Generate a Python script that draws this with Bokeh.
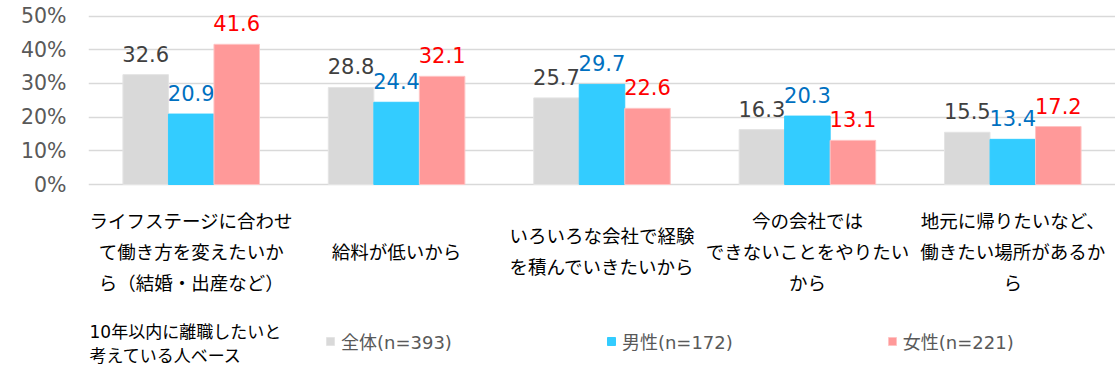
from bokeh.plotting import figure
from bokeh.models import ColumnDataSource, FactorRange, FixedTicker, Legend, LegendItem, Label, Range1d
from bokeh.transform import dodge
from bokeh.core.properties import value
from bokeh.embed import file_html
from bokeh.resources import INLINE

# ---------------- data ----------------
category_lines = [
    ["ライフステージに合わせ", "て働き方を変えたいか", "ら（結婚・出産など）"],
    ["給料が低いから"],
    ["いろいろな会社で経験", "を積んでいきたいから"],
    ["今の会社では", "できないことをやりたい", "から"],
    ["地元に帰りたいなど、", "働きたい場所があるか", "ら"],
]
categories = ["".join(l) for l in category_lines]
series_names = ["全体(n=393)", "男性(n=172)", "女性(n=221)"]
total = [32.6, 28.8, 25.7, 16.3, 15.5]
male = [20.9, 24.4, 29.7, 20.3, 13.4]
female = [41.6, 32.1, 22.6, 13.1, 17.2]
y_ticks = [0, 10, 20, 30, 40, 50]
tick_labels = ["0%", "10%", "20%", "30%", "40%", "50%"]
note_lines = ["10年以内に離職したいと", "考えている人ベース"]

# ---------------- style / layout ----------------
bar_colors = ["#D9D9D9", "#33CCFF", "#FF9999"]
bar_lines = ["#E4E4E4", "#33CCFF", "#FFC4C4"]
label_colors = ["#404040", "#0070C0", "#FF0000"]
W, H = 1115, 375
LEFT = 88
Y50_PX, Y0_PX = 15.5, 184.0
ppu = (Y0_PX - Y50_PX) / 50.0
y_end = 50 + Y50_PX / ppu
y_start = -(H - Y0_PX) / ppu
BW = 0.2216
offsets = [-BW, 0.0, BW]
NUM_FONT_S = "DejaVu Sans"
JP_FONT_S = "Noto Sans CJK JP"
MIX_FONT_S = "DejaVu Sans, Noto Sans CJK JP"

keys = ["total", "male", "female"]
data = dict(cat=categories, total=total, male=male, female=female)
for k, vals in zip(keys, [total, male, female]):
    data[k + "_lbl"] = [f"{v:.1f}" for v in vals]
src = ColumnDataSource(data)

p = figure(width=W, height=H, output_backend="svg", toolbar_location=None,
           x_range=FactorRange(*categories, range_padding=0),
           y_range=Range1d(y_start, y_end),
           x_axis_location=None,
           min_border_left=LEFT, min_border_right=0, min_border_top=0, min_border_bottom=0)
p.outline_line_color = None
p.xgrid.visible = False
p.background_fill_color = "white"
p.border_fill_color = "white"

p.yaxis.ticker = FixedTicker(ticks=y_ticks, minor_ticks=[])
p.yaxis.major_label_overrides = {t: l for t, l in zip(y_ticks, tick_labels)}
p.yaxis.axis_line_color = None
p.yaxis.major_tick_line_color = None
p.yaxis.minor_tick_line_color = None
p.yaxis.major_label_standoff = 16
p.yaxis.major_label_text_font = NUM_FONT_S
p.yaxis.major_label_text_font_size = "20.5px"
p.yaxis.major_label_text_color = "#595959"
p.ygrid.grid_line_color = "#D9D9D9"
p.ygrid.grid_line_width = 1.5

renderers = []
for k, off, fc, lc, tc in zip(keys, offsets, bar_colors, bar_lines, label_colors):
    r = p.vbar(x=dodge("cat", off, range=p.x_range), top=k, width=BW, bottom=0,
               source=src, fill_color=fc, line_color=lc, line_width=1)
    renderers.append(r)
    p.text(x=dodge("cat", off, range=p.x_range), y=k, text=k + "_lbl", source=src,
           text_align="center", text_baseline="alphabetic", y_offset=-21,
           text_font=value(NUM_FONT_S), text_font_size="21px", text_color=tc)

# category labels (one row per line)
LINE_GAP = 31
CENTER_BELOW = 66
x_shift = [0, 0, 0, 0, 0]
lc_, lt_, lyo, lxo = [], [], [], []
for cat, lines, xs in zip(categories, category_lines, x_shift):
    n = len(lines)
    for j, t in enumerate(lines):
        lc_.append(cat)
        lt_.append(t)
        lyo.append(CENTER_BELOW + (j - (n - 1) / 2) * LINE_GAP)
        lxo.append(xs)
lsrc = ColumnDataSource(dict(cat=lc_, txt=lt_, yo=lyo, xo=lxo))
p.text(x="cat", y=0, text="txt", source=lsrc, x_offset="xo", y_offset="yo",
       text_align="center", text_baseline="middle",
       text_font=value(JP_FONT_S), text_font_size="18.5px", text_color="#000000")

# legend
legend = Legend(items=[LegendItem(label=n, renderers=[r]) for n, r in zip(series_names, renderers)],
                orientation="horizontal", location=(325 - LEFT, 21), spacing=154,
                glyph_width=10, glyph_height=10, label_standoff=6,
                padding=0, margin=0, border_line_color=None, background_fill_alpha=0,
                label_text_font=MIX_FONT_S, label_text_font_size="18px",
                label_text_color="#595959", label_height=20)
p.add_layout(legend, "center")

# note
for i, t in enumerate(note_lines):
    p.add_layout(Label(x=0, y=0, x_units="data", y_units="data", x_offset=1,
                       y_offset=-(331 - Y0_PX + 24 * i), text=t, text_baseline="middle",
                       text_font=MIX_FONT_S, text_font_size="17px", text_color="#000000"))

open("out.html", "w").write(file_html(p, INLINE))
